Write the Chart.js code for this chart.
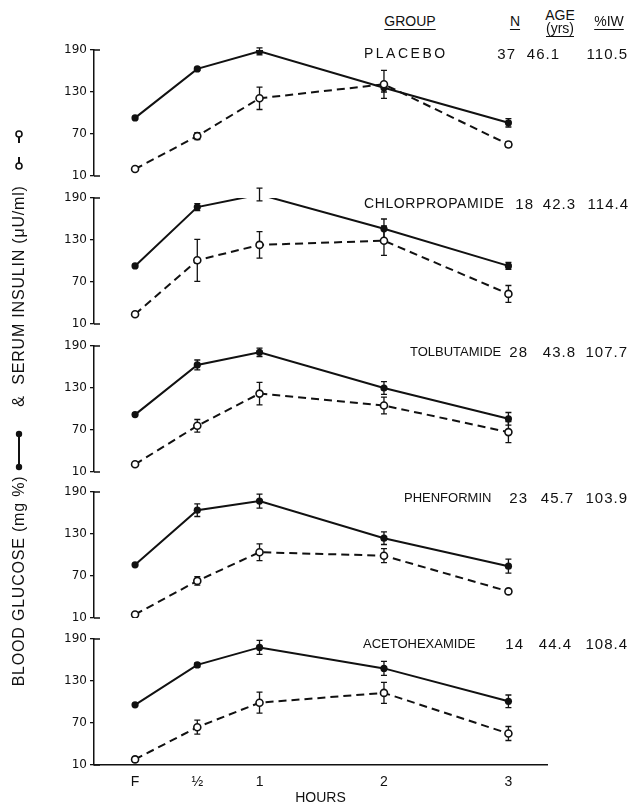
<!DOCTYPE html>
<html>
<head>
<meta charset="utf-8">
<script src="https://cdn.jsdelivr.net/npm/chart.js@4.4.0/dist/chart.umd.min.js"></script>
<style>
  html, body { margin: 0; padding: 0; background: #fff; }
  #wrap { position: relative; width: 630px; height: 807px; overflow: hidden;
          font-family: 'Liberation Sans', Arial, sans-serif; color: #111; }
  canvas { position: absolute; left: 0; }
  .txt { position: absolute; white-space: nowrap; font-size: 14px; line-height: 1; }
  .ul { text-decoration: underline; text-underline-offset: 3px; }
  .rot { position: absolute; white-space: nowrap; font-size: 16px; letter-spacing: 0.8px;
         transform: translate(-50%, -50%) rotate(-90deg); }
</style>
</head>
<body>
<div id="wrap"></div>
<script>
// ---- Data ----
const hours = [0, 0.5, 1, 2, 3];
const hourLabels = ['F', '\u00BD', '1', '2', '3'];
const yTicks = [10, 70, 130, 190];

const groups = ['PLACEBO', 'CHLORPROPAMIDE', 'TOLBUTAMIDE', 'PHENFORMIN', 'ACETOHEXAMIDE'];
const nSubjects = ['37', '18', '28', '23', '14'];
const ageYrs = ['46.1', '42.3', '43.8', '45.7', '44.4'];
const pctIW = ['110.5', '114.4', '107.7', '103.9', '108.4'];

// blood glucose (mg %) and serum insulin (uU/ml), mean and SE
const placeboGlucose = [93, 163, 188, 136, 86];
const placeboGlucoseSE = [2, 2, 5, 6, 6];
const placeboInsulin = [20, 67, 121, 141, 55];
const placeboInsulinSE = [3, 5, 16, 20, 4];

const chlorGlucose = [93, 177, 195, 146, 93];
const chlorGlucoseSE = [2, 5, 9, 14, 5];
const chlorInsulin = [24, 101, 123, 129, 53];
const chlorInsulinSE = [2, 30, 19, 21, 12];

const tolbGlucose = [92, 163, 181, 130, 86];
const tolbGlucoseSE = [2, 7, 6, 9, 9];
const tolbInsulin = [21, 76, 122, 105, 67];
const tolbInsulinSE = [2, 9, 16, 12, 15];

const phenGlucose = [86, 164, 177, 124, 84];
const phenGlucoseSE = [2, 9, 10, 9, 10];
const phenInsulin = [15, 63, 104, 99, 48];
const phenInsulinSE = [2, 6, 12, 10, 3];

const acetoGlucose = [96, 153, 178, 148, 101];
const acetoGlucoseSE = [2, 3, 10, 10, 9];
const acetoInsulin = [18, 64, 99, 113, 55];
const acetoInsulinSE = [4, 10, 15, 15, 10];

const glucose = [placeboGlucose, chlorGlucose, tolbGlucose, phenGlucose, acetoGlucose];
const glucoseSE = [placeboGlucoseSE, chlorGlucoseSE, tolbGlucoseSE, phenGlucoseSE, acetoGlucoseSE];
const insulin = [placeboInsulin, chlorInsulin, tolbInsulin, phenInsulin, acetoInsulin];
const insulinSE = [placeboInsulinSE, chlorInsulinSE, tolbInsulinSE, phenInsulinSE, acetoInsulinSE];

// ---- Layout ----
const wrap = document.getElementById('wrap');
const panelTop = [50, 198, 346, 492, 639];   // page y of the 190 tick
const PLOT_H = 126;
const PAD = 15;
const XAXIS_H = 42;
const INK = '#111';

// error bars, drawn under the lines and points
const errorBars = {
    id: 'errorBars',
    beforeDatasetsDraw(chart) {
        const ctx = chart.ctx;
        const xs = chart.scales.x, ys = chart.scales.y;
        chart.data.datasets.forEach(ds => {
            if (!ds.errors) return;
            ctx.save();
            ctx.strokeStyle = INK;
            ctx.lineWidth = 1.3;
            ds.data.forEach((p, i) => {
                const e = ds.errors[i];
                if (!e) return;
                const x = xs.getPixelForValue(p.x);
                const y1 = ys.getPixelForValue(p.y + e);
                const y2 = ys.getPixelForValue(p.y - e);
                ctx.beginPath();
                ctx.moveTo(x, y1); ctx.lineTo(x, y2);
                ctx.moveTo(x - 3, y1); ctx.lineTo(x + 3, y1);
                ctx.moveTo(x - 3, y2); ctx.lineTo(x + 3, y2);
                ctx.stroke();
            });
            ctx.restore();
        });
    }
};

// little corner marks at the ends of each y axis (hand-drawn look of the original)
const axisCorners = {
    id: 'axisCorners',
    afterDraw(chart) {
        const ctx = chart.ctx, ys = chart.scales.y;
        const x0 = chart.chartArea.left;
        const yTop = ys.getPixelForValue(ys.max), yBot = ys.getPixelForValue(ys.min);
        ctx.save();
        ctx.strokeStyle = INK;
        ctx.lineWidth = 1.3;
        ctx.beginPath();
        ctx.moveTo(x0, yTop); ctx.lineTo(x0 + 6, yTop);
        ctx.moveTo(x0, yBot); ctx.lineTo(x0 + 6, yBot);
        ctx.stroke();
        ctx.restore();
    }
};

const toPoints = vals => hours.map((h, i) => ({ x: h, y: vals[i] }));

function makePanel(idx) {
    const isLast = idx === groups.length - 1;
    const h = PAD + PLOT_H + (isLast ? XAXIS_H : PAD);
    const canvas = document.createElement('canvas');
    canvas.width = 630;
    canvas.height = h;
    canvas.style.top = (panelTop[idx] - PAD) + 'px';
    wrap.appendChild(canvas);

    new Chart(canvas, {
        type: 'line',
        data: {
            datasets: [
                {
                    label: 'Serum insulin', data: toPoints(insulin[idx]), errors: insulinSE[idx],
                    borderColor: INK, borderWidth: 2, borderDash: [8, 5],
                    pointRadius: 3.5, pointBackgroundColor: '#fff', pointBorderColor: INK, pointBorderWidth: 1.6
                },
                {
                    label: 'Blood glucose', data: toPoints(glucose[idx]), errors: glucoseSE[idx],
                    borderColor: INK, borderWidth: 2,
                    pointRadius: 3.6, pointBackgroundColor: INK, pointBorderColor: INK, pointBorderWidth: 0
                }
            ]
        },
        options: {
            responsive: false,
            animation: false,
            layout: { padding: { top: PAD, bottom: isLast ? 0 : PAD, left: 34, right: 83 } },
            plugins: { legend: { display: false }, tooltip: { enabled: false } },
            scales: {
                x: {
                    type: 'linear', min: -0.33, max: 3.31, display: isLast,
                    afterBuildTicks: s => { s.ticks = hours.map(v => ({ value: v })); },
                    ticks: {
                        callback: v => hourLabels[hours.indexOf(v)],
                        autoSkip: false, maxRotation: 0, padding: 9, color: INK,
                        font: { family: "'Liberation Sans', Arial", size: 14 }
                    },
                    grid: { display: false, drawTicks: false },
                    border: { color: INK, width: 1.5 },
                    title: {
                        display: true, text: 'HOURS', color: INK,
                        font: { family: "'Liberation Sans', Arial", size: 14 },
                        padding: { top: 0, bottom: 0 }
                    },
                    afterFit: s => { if (isLast) s.height = XAXIS_H; }
                },
                y: {
                    min: 10, max: 190,
                    afterBuildTicks: s => { s.ticks = yTicks.map(v => ({ value: v })); },
                    ticks: { color: INK, padding: 3, font: { family: "'DejaVu Sans'", size: 12 } },
                    grid: { display: true, drawOnChartArea: false, drawTicks: true, tickLength: 4, color: INK, lineWidth: 1.3 },
                    border: { color: INK, width: 1.5 },
                    afterFit: s => { s.width = 60; }
                }
            }
        },
        plugins: [errorBars, axisCorners]
    });
}

groups.forEach((g, i) => makePanel(i));

// ---- Text: header, group rows, rotated axis label ----
function place(text, x, y, opts = {}) {
    const d = document.createElement('div');
    d.className = 'txt' + (opts.ul ? ' ul' : '');
    d.textContent = text;
    if (opts.size) d.style.fontSize = opts.size + 'px';
    if (opts.ls) d.style.letterSpacing = opts.ls + 'px';
    const tx = opts.align === 'right' ? '-100%' : (opts.align === 'center' ? '-50%' : '0');
    d.style.left = x + 'px';
    d.style.top = y + 'px';
    d.style.transform = `translate(${tx}, -50%)`;
    wrap.appendChild(d);
}

place('GROUP', 410, 21, { align: 'center', ul: true });
place('N', 515, 21, { align: 'center', ul: true });
place('AGE', 560, 15, { align: 'center' });
place('(yrs)', 560, 28, { align: 'center', ul: true });
place('%IW', 609, 21, { align: 'center', ul: true });

const rowY = [53, 203, 351, 497, 643];
const nameX = [364, 364, 410, 404, 363];
const nameSize = [14, 14, 13, 13, 13];
const nameLs = [2.5, 0.6, 0, 0, 0];
const nRight = [516, 534, 528, 528, 524];
const ageRight = [560, 576, 576, 574, 572];
const iwRight = [628, 629, 628, 628, 628];
groups.forEach((g, i) => {
    place(g, nameX[i], rowY[i], { size: nameSize[i], ls: nameLs[i] });
    place(nSubjects[i], nRight[i], rowY[i], { align: 'right', size: 15, ls: 1 });
    place(ageYrs[i], ageRight[i], rowY[i], { align: 'right', size: 15, ls: 1 });
    place(pctIW[i], iwRight[i], rowY[i], { align: 'right', size: 15, ls: 1 });
});

function rotated(text, x, y) {
    const d = document.createElement('div');
    d.className = 'rot';
    d.textContent = text;
    d.style.left = x + 'px';
    d.style.top = y + 'px';
    wrap.appendChild(d);
}
rotated('BLOOD GLUCOSE  (mg %)', 19, 581);
rotated('&', 19, 401);
rotated('SERUM INSULIN (\u03BCU/ml)', 19, 285);

// legend symbols next to the axis label
const sym = document.createElementNS('http://www.w3.org/2000/svg', 'svg');
sym.setAttribute('width', 40);
sym.setAttribute('height', 807);
sym.style.cssText = 'position:absolute;left:0;top:0;';
sym.innerHTML =
    '<line x1="19" y1="434" x2="19" y2="467" stroke="#111" stroke-width="2"/>' +
    '<circle cx="19" cy="434" r="3.2" fill="#111"/>' +
    '<circle cx="19" cy="467" r="3.2" fill="#111"/>' +
    '<line x1="19" y1="137" x2="19" y2="143" stroke="#111" stroke-width="2"/>' +
    '<line x1="19" y1="157" x2="19" y2="163" stroke="#111" stroke-width="2"/>' +
    '<circle cx="19" cy="134" r="3" fill="#fff" stroke="#111" stroke-width="1.6"/>' +
    '<circle cx="19" cy="166" r="3" fill="#fff" stroke="#111" stroke-width="1.6"/>';
wrap.appendChild(sym);
</script>
</body>
</html>
